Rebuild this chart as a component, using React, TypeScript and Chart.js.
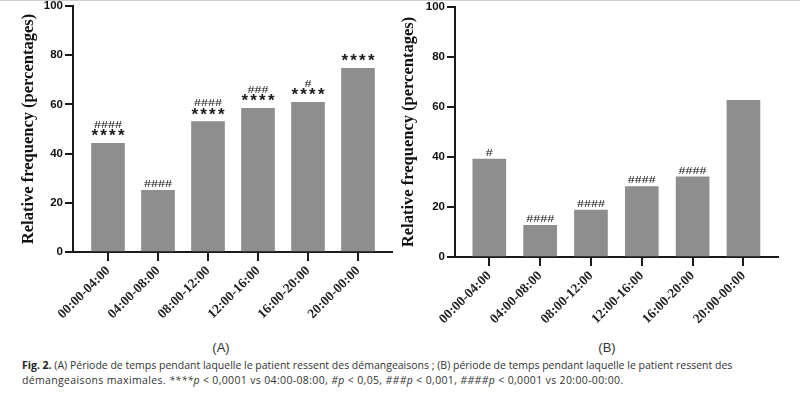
import React, { useEffect, useRef } from "react";
import { Chart, registerables } from "chart.js";

Chart.register(...registerables);

const categories = ["00:00-04:00", "04:00-08:00", "08:00-12:00", "12:00-16:00", "16:00-20:00", "20:00-00:00"];
const valuesA = [44.2, 25.1, 53.0, 58.4, 60.8, 74.7];
const valuesB = [39.2, 12.7, 18.8, 28.2, 32.1, 62.7];
const starsA = ["****", "", "****", "****", "****", "****"];
const hashesA = ["####", "####", "####", "###", "#", ""];
const starsB = ["", "", "", "", "", ""];
const hashesB = ["#", "####", "####", "####", "####", ""];
const yTicks = [0, 20, 40, 60, 80, 100];
const yTitle = "Relative frequency (percentages)";
const panelLabels = ["(A)", "(B)"];

function drawInk(ctx: CanvasRenderingContext2D, text: string, cx: number, cy: number, font: string, spacing: number, sy: number) {
  ctx.save();
  ctx.font = font;
  (ctx as any).letterSpacing = spacing + "px";
  ctx.textAlign = "left";
  ctx.textBaseline = "alphabetic";
  ctx.fillStyle = "#1a1a1a";
  const m = ctx.measureText(text);
  const w = m.width - spacing;
  ctx.translate(cx - w / 2, cy);
  ctx.scale(1, sy);
  ctx.fillText(text, 0, (m.actualBoundingBoxAscent - m.actualBoundingBoxDescent) / 2);
  ctx.restore();
}

function makeSigPlugin(values: number[], stars: string[], hashes: string[]) {
  return {
    id: "sig",
    afterDatasetsDraw(chart: any) {
      const ctx = chart.ctx;
      const xs = chart.scales.x;
      const ys = chart.scales.y;
      values.forEach((v, i) => {
        const x = xs.getPixelForValue(i);
        const top = ys.getPixelForValue(v);
        const s = stars[i];
        const h = hashes[i];
        if (s) drawInk(ctx, s, x, top - 10.5, 'bold 17px "Liberation Sans", Arial, sans-serif', 2.2, 1);
        if (h) drawInk(ctx, h, x, s ? top - 19.5 : top - 7, '14px "Liberation Serif", serif', 0, 0.75);
      });
    },
  };
}

type PanelProps = {
  values: number[];
  stars: string[];
  hashes: string[];
  width: number;
  height: number;
  yAxisWidth: number;
  xAxisHeight: number;
  padTop: number;
  padRight: number;
  titlePad: number;
  xMin: number;
  xMax: number;
};

function Panel(p: PanelProps) {
  const ref = useRef<HTMLCanvasElement>(null);
  useEffect(() => {
    if (!ref.current) return;
    const axisColor = "#1a1a1a";
    const chart = new Chart(ref.current, {
      type: "bar",
      data: {
        datasets: [
          {
            data: p.values.map((v, i) => ({ x: i, y: v })) as any,
            backgroundColor: "#8e8e8e",
            borderWidth: 0,
            barThickness: 33,
          },
        ],
      },
      options: {
        responsive: false,
        animation: false,
        devicePixelRatio: 1,
        layout: { padding: { top: p.padTop, right: p.padRight, left: 0, bottom: 0 } },
        plugins: { legend: { display: false }, tooltip: { enabled: false } },
        scales: {
          x: {
            type: "linear",
            min: p.xMin,
            max: p.xMax,
            offset: false,
            afterBuildTicks: (s: any) => {
              s.ticks = categories.map((_, i) => ({ value: i }));
            },
            afterFit: (s: any) => {
              s.height = p.xAxisHeight;
              s.paddingLeft = 0;
              s.paddingRight = 0;
            },
            grid: {
              offset: false,
              drawOnChartArea: false,
              drawTicks: true,
              tickLength: 9,
              lineWidth: 2,
              color: axisColor,
            },
            border: { display: true, color: axisColor, width: 2 },
            ticks: {
              autoSkip: false,
              maxRotation: 45,
              minRotation: 45,
              padding: 2,
              color: "#222",
              font: { family: '"Liberation Serif", "Times New Roman", serif', weight: "bold", size: 13.5 },
              callback: (v: any) => categories[v] ?? "",
            },
          },
          y: {
            min: 0,
            max: 100,
            afterBuildTicks: (s: any) => {
              s.ticks = yTicks.map((v) => ({ value: v }));
            },
            afterFit: (s: any) => {
              s.width = p.yAxisWidth;
              s.paddingTop = 0;
              s.paddingBottom = 0;
            },
            grid: {
              drawOnChartArea: false,
              drawTicks: true,
              tickLength: 8,
              lineWidth: 2,
              color: axisColor,
            },
            border: { display: true, color: axisColor, width: 2 },
            ticks: {
              padding: 2,
              color: "#111",
              font: { family: '"Liberation Sans", Arial, sans-serif', weight: "bold", size: 11.5 },
            },
            title: {
              display: true,
              text: yTitle,
              color: "#111",
              padding: { top: p.titlePad, bottom: 0 },
              font: { family: '"Liberation Serif", "Times New Roman", serif', weight: "bold", size: 16.5 },
            },
          },
        },
      } as any,
      plugins: [makeSigPlugin(p.values, p.stars, p.hashes)],
    });
    return () => chart.destroy();
  }, []);
  return <canvas ref={ref} width={p.width} height={p.height} style={{ display: "block", width: p.width, height: p.height }} />;
}

export default function App() {
  const captionFont = '"Open Sans", Lato, sans-serif';
  return (
    <div
      style={{
        position: "absolute",
        left: 0,
        top: 0,
        width: 800,
        height: 394,
        background: "#fff",
        overflow: "hidden",
        borderTop: "1px solid #d0d0d0",
        boxSizing: "border-box",
      }}
    >
      <div style={{ position: "absolute", left: 0, top: -1 }}>
        <Panel
          values={valuesA}
          stars={starsA}
          hashes={hashesA}
          width={395}
          height={340}
          yAxisWidth={73}
          xAxisHeight={88}
          padTop={6}
          padRight={3}
          titlePad={19}
          xMin={-0.7}
          xMax={5.68}
        />
      </div>
      <div style={{ position: "absolute", left: 395, top: -1 }}>
        <Panel
          values={valuesB}
          stars={starsB}
          hashes={hashesB}
          width={405}
          height={340}
          yAxisWidth={60}
          xAxisHeight={83}
          padTop={7}
          padRight={22}
          titlePad={4}
          xMin={-0.675}
          xMax={5.68}
        />
      </div>
      <div
        style={{
          position: "absolute",
          left: 201,
          width: 40,
          top: 339,
          textAlign: "center",
          font: '13px "Liberation Sans Narrow", "Liberation Sans", sans-serif',
          color: "#333",
        }}
      >
        {panelLabels[0]}
      </div>
      <div
        style={{
          position: "absolute",
          left: 587,
          width: 40,
          top: 339,
          textAlign: "center",
          font: '13px "Liberation Sans Narrow", "Liberation Sans", sans-serif',
          color: "#333",
        }}
      >
        {panelLabels[1]}
      </div>
      <div
        style={{
          position: "absolute",
          left: 22,
          top: 357,
          font: `10.5px ${captionFont}`,
          lineHeight: "14.5px",
          color: "#333",
          whiteSpace: "nowrap",
        }}
      >
        <div>
          <b style={{ color: "#222" }}>Fig. 2.</b> (A) Période de temps pendant laquelle le patient ressent des démangeaisons ; (B) période de temps pendant laquelle le patient ressent des
        </div>
        <div style={{ letterSpacing: "0.35px" }}>
          démangeaisons maximales. <i>****p</i> &lt; 0,0001 vs 04:00-08:00, <i>#p</i> &lt; 0,05, <i>###p</i> &lt; 0,001, <i>####p</i> &lt; 0,0001 vs 20:00-00:00.
        </div>
      </div>
    </div>
  );
}
